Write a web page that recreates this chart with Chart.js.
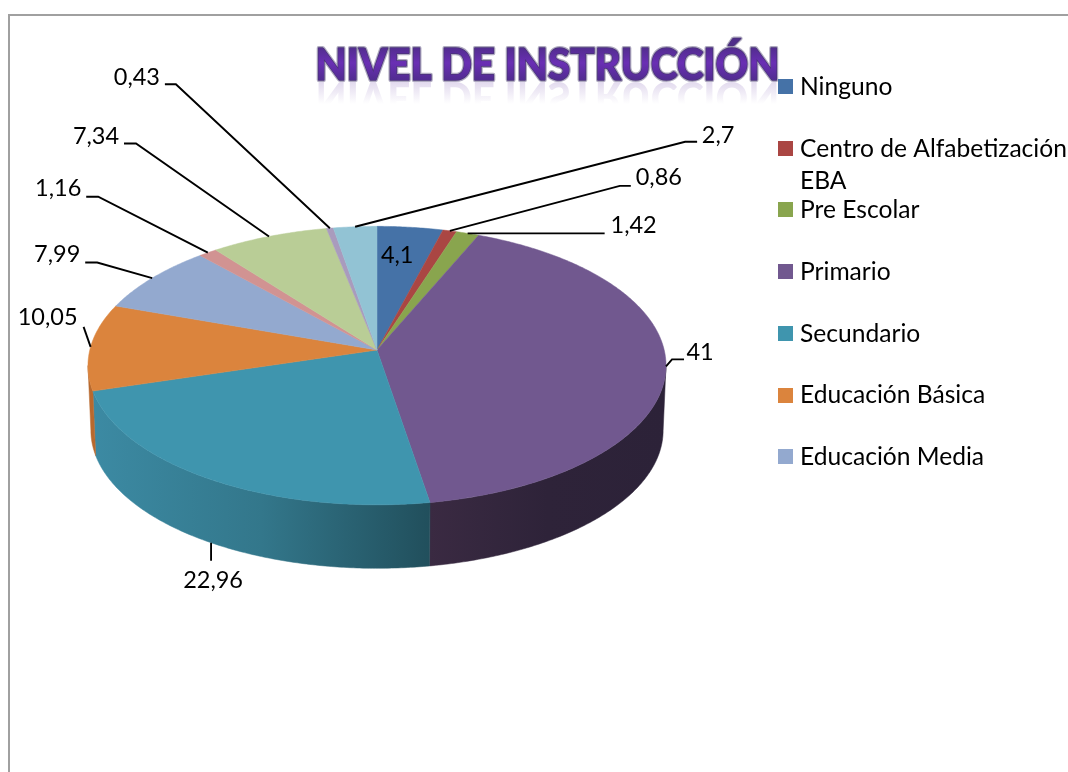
<!DOCTYPE html>
<html lang="es">
<head>
<meta charset="utf-8">
<title>Nivel de instrucción</title>
<style>html,body{margin:0;padding:0;background:#fff;overflow:hidden}canvas{display:block}</style>
<script src="https://cdn.jsdelivr.net/npm/chart.js@4/dist/chart.umd.js"></script>
</head>
<body>
<canvas id="c" width="1068" height="772"></canvas>
<script>
const chartTitle = "NIVEL DE INSTRUCCIÓN";
const categories = ["Ninguno", "Centro de Alfabetización\nEBA", "Pre Escolar", "Primario", "Secundario", "Educación Básica", "Educación Media", "(sin leyenda 8)", "(sin leyenda 9)", "(sin leyenda 10)", "(sin leyenda 11)"];
const values = [4.1, 0.86, 1.42, 41, 22.96, 10.05, 7.99, 1.16, 7.34, 0.43, 2.7];
const colors = ["#4572a7", "#aa4643", "#89a54e", "#71588f", "#3f95ae", "#db843d", "#93a9cf", "#d19392", "#b9cd96", "#a99bbd", "#92c3d4"];
const legendCount = 7;

// Leader lines and label offsets, relative to each slice's rim point
const labelLayout = [
  {text: [-13, 28]},
  {line: [[170, -45], [181, -45]], text: [209, -53]},
  {line: [[137, 0]], text: [166, -8]},
  {line: [[6, -7], [18, -7]], text: [34, -14]},
  {wall: true, line: [[0, 18]], text: [2, 38]},
  {line: [[-7, -20]], text: [-43, -29]},
  {line: [[-55, -15.5], [-67, -15.5]], text: [-95, -23.5]},
  {line: [[-109.6, -56], [-121.6, -56]], text: [-149.6, -64]},
  {line: [[-133, -93], [-145, -93]], text: [-173, -100]},
  {line: [[-154, -144], [-165, -144]], text: [-193, -151]},
  {line: [[330, -85], [342, -85]], text: [363, -91]}
];
const wallShades = {3: ["#3a2a42", "#2e2339", "#2c2238"], 4: ["#3c8aa3", "#33778b", "#214f5c"], 5: ["#b8692e", "#b8692e"]};

// Perspective disc: apex, vertical and horizontal extents
const cx = 377, cy = 350, persp = 0.112, ampY = 137.5, ampX = 287.2, depth = 66;
const VALUE_FONT = '23.5px Lato', LEGEND_FONT = '24.6px Lato';

function rim(t) {
  const u = Math.sin(t), v = Math.cos(t), w = 1 + persp * v;
  return [cx + ampX * u / w, cy - ampY * v / w];
}
function rimLow(t) {
  const p = rim(t);
  return [cx + (p[0] - cx) * 0.99, cy + (p[1] - cy) * 0.99 + depth - 1];
}
function samples(a, b, fn) {
  const out = [], n = Math.max(2, Math.ceil((b - a) / 0.01));
  for (let i = 0; i <= n; i++) out.push(fn(a + (b - a) * i / n));
  return out;
}

const pie3d = {
  id: 'pie3d',
  beforeDraw(chart) {
    const c = chart.ctx;
    c.save();
    c.fillStyle = '#fff';
    c.fillRect(0, 0, chart.width, chart.height);
    c.strokeStyle = '#a0a0a0';
    c.lineWidth = 2;
    c.beginPath();
    c.moveTo(9, chart.height + 2);
    c.lineTo(9, 15);
    c.lineTo(chart.width + 2, 15);
    c.stroke();
    c.restore();
  },
  beforeDatasetDraw(chart, args) {
    const c = chart.ctx, arcs = args.meta.data;
    const tR = Math.acos(-persp), tL = 2 * Math.PI - tR;
    c.save();
    arcs.forEach((el, i) => {
      const ts = Math.max(el.startAngle + Math.PI / 2, tR), te = Math.min(el.endAngle + Math.PI / 2, tL);
      if (te <= ts) return;
      const top = samples(ts, te, rim), low = samples(ts, te, rimLow).reverse();
      const xs = top.concat(low).map(p => p[0]);
      const g = c.createLinearGradient(Math.min(...xs), 0, Math.max(...xs), 0);
      const stops = wallShades[i] || [colors[i], colors[i]];
      stops.forEach((s, j) => g.addColorStop(j / (stops.length - 1), s));
      c.fillStyle = g; c.strokeStyle = g; c.lineWidth = 0.5;
      c.beginPath();
      top.concat(low).forEach((p, j) => j ? c.lineTo(p[0], p[1]) : c.moveTo(p[0], p[1]));
      c.closePath(); c.fill(); c.stroke();
    });
    arcs.forEach((el, i) => {
      const pts = samples(el.startAngle + Math.PI / 2, el.endAngle + Math.PI / 2, rim);
      c.fillStyle = colors[i]; c.strokeStyle = colors[i]; c.lineWidth = 0.5;
      c.beginPath();
      c.moveTo(cx, cy);
      pts.forEach(p => c.lineTo(p[0], p[1]));
      c.closePath(); c.fill(); c.stroke();
    });
    c.restore();
    return false;
  },
  afterDraw(chart) {
    const c = chart.ctx, arcs = chart.getDatasetMeta(0).data;
    c.save();
    // Title with reflection
    const tf = '900 44px Lato', tx = 547.5, ty = 80, tw = 464;
    c.font = tf; c.textAlign = 'center'; c.textBaseline = 'alphabetic';
    c.save();
    c.translate(0, 2 * ty + 2);
    c.scale(1, -1);
    const rg = c.createLinearGradient(0, ty - 22, 0, ty);
    rg.addColorStop(0, 'rgba(110,70,170,0)');
    rg.addColorStop(1, 'rgba(110,70,170,0.2)');
    c.fillStyle = rg;
    c.fillText(chartTitle, tx, ty, tw);
    c.restore();
    const tg = c.createLinearGradient(0, 46, 0, 80);
    tg.addColorStop(0, '#4f2d8a'); tg.addColorStop(0.5, '#6a2fb4'); tg.addColorStop(1, '#512c90');
    c.lineJoin = 'round';
    c.strokeStyle = 'rgba(110,100,140,0.55)'; c.lineWidth = 4;
    c.strokeText(chartTitle, tx, ty, tw);
    c.strokeStyle = '#4a3378'; c.lineWidth = 1.5;
    c.strokeText(chartTitle, tx, ty, tw);
    c.fillStyle = tg;
    c.fillText(chartTitle, tx, ty, tw);

    // Legend
    c.font = LEGEND_FONT; c.textAlign = 'left'; c.textBaseline = 'middle';
    for (let i = 0; i < legendCount; i++) {
      const y = 87 + i * 61.7;
      c.fillStyle = colors[i];
      c.fillRect(778, Math.round(y) - 8, 15, 15);
      c.fillStyle = '#000';
      String(categories[i]).split('\n').forEach((s, j) => c.fillText(s, 800, y + j * 32));
    }

    // Value labels with leader lines
    c.font = VALUE_FONT;
    c.strokeStyle = '#000'; c.lineWidth = 1.9; c.lineJoin = 'miter';
    c.textAlign = 'center';
    arcs.forEach((el, i) => {
      const L = labelLayout[i], mid = (el.startAngle + el.endAngle) / 2 + Math.PI / 2;
      const a = L.wall ? rimLow(mid) : rim(mid);
      if (L.line) {
        c.beginPath();
        c.moveTo(a[0], a[1]);
        L.line.forEach(d => c.lineTo(a[0] + d[0], a[1] + d[1]));
        c.stroke();
      }
      c.fillStyle = '#000';
      c.fillText(String(values[i]).replace('.', ','), a[0] + L.text[0], a[1] + L.text[1]);
    });
    c.restore();
  }
};

new Chart(document.getElementById('c'), {
  type: 'pie',
  data: {labels: categories, datasets: [{data: values, backgroundColor: colors, borderWidth: 0}]},
  options: {
    responsive: false,
    animation: false,
    plugins: {legend: {display: false}, tooltip: {enabled: false}, title: {display: false}}
  },
  plugins: [pie3d]
});
</script>
</body>
</html>
